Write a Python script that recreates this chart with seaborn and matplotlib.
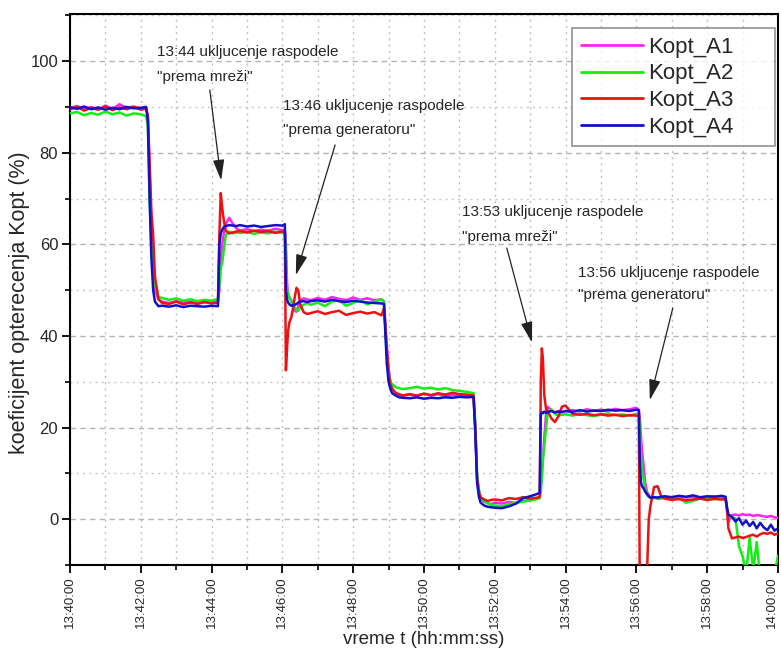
import matplotlib
matplotlib.use("Agg")
import matplotlib.pyplot as plt
from matplotlib.ticker import MultipleLocator
import seaborn as sns
import pandas as pd

# ---------------- data (time in minutes after 13:40:00) ----------------
T = [
    0.0, 0.2, 0.4, 0.6, 0.8, 1.0, 1.2, 1.4, 1.6, 1.8, 2.0, 2.15,
    2.2, 2.25, 2.3, 2.35, 2.4, 2.5,
    2.6, 2.8, 3.0, 3.2, 3.4, 3.6, 3.8, 4.0, 4.18,
    4.22, 4.26, 4.3, 4.35, 4.4, 4.5, 4.6, 4.7,
    4.8, 5.0, 5.2, 5.4, 5.6, 5.8, 6.0, 6.07,
    6.1, 6.13, 6.16, 6.2, 6.25, 6.3, 6.35, 6.4, 6.45, 6.5, 6.6, 6.7,
    6.8, 7.0, 7.2, 7.4, 7.6, 7.8, 8.0, 8.2, 8.4, 8.6, 8.8, 8.87,
    8.9, 8.95, 9.0, 9.05, 9.1, 9.2, 9.3, 9.4,
    9.6, 9.8, 10.0, 10.2, 10.4, 10.6, 10.8, 11.0, 11.2, 11.4,
    11.45, 11.5, 11.55, 11.6, 11.7, 11.8, 11.9,
    12.0, 12.2, 12.4, 12.6, 12.8, 13.0, 13.2, 13.27,
    13.3, 13.33, 13.36, 13.4, 13.45, 13.5, 13.6, 13.7, 13.8, 13.9,
    14.0, 14.2, 14.4, 14.6, 14.8, 15.0, 15.2, 15.4, 15.6, 15.8, 16.0, 16.07,
    16.1, 16.13, 16.16, 16.2, 16.25, 16.3, 16.35, 16.4, 16.5, 16.6, 16.7,
    16.8, 17.0, 17.2, 17.4, 17.6, 17.8, 18.0, 18.2, 18.4, 18.52,
    18.56, 18.6, 18.7, 18.8, 18.9, 19.0, 19.1, 19.2, 19.3, 19.4, 19.5, 19.6, 19.7, 19.8, 19.9, 20.0,
]

KOPT_A1 = [
    89.8, 90.2, 89.5, 90.0, 89.4, 90.3, 89.6, 90.6, 89.8, 90.1, 89.7, 89.9,
    88.0, 76.0, 64.0, 55.0, 50.0, 48.0,
    47.5, 47.2, 47.6, 47.3, 47.5, 47.1, 47.4, 47.2, 47.6,
    50.0, 57.0, 60.0, 62.5, 64.5, 65.8, 64.5, 63.5,
    63.0, 63.3, 62.9, 63.2, 63.0, 63.4, 63.1, 63.2,
    60.0, 52.0, 48.5, 48.5, 47.8, 46.5, 45.5, 45.3, 46.5, 47.8, 48.2, 48.0,
    47.8, 48.3, 47.9, 48.5, 48.1, 47.8, 48.4, 47.9, 48.2, 47.8, 48.0, 47.6,
    44.0, 38.0, 33.0, 30.0, 28.5, 27.5, 27.3, 27.0,
    27.2, 26.9, 27.4, 27.0, 27.3, 26.8, 27.1, 27.0, 26.9, 26.8,
    20.0, 9.0, 6.0, 4.5, 3.8, 3.5, 3.3,
    3.6, 3.4, 3.8, 3.5, 4.0, 4.2, 4.5, 4.6,
    7.0, 10.0, 13.0, 18.0, 23.0, 24.5, 23.8, 23.3, 23.6, 23.4,
    23.6, 23.8, 23.5, 24.0, 23.7, 23.9, 23.6, 24.1, 23.8, 24.0, 24.3, 23.8,
    22.0, 18.0, 15.0, 12.0, 8.0, 6.0, 5.2, 4.7, 4.6, 4.8, 4.7,
    4.8, 4.6, 5.0, 4.7, 4.9, 4.6, 4.8, 5.0, 4.7, 4.5,
    2.0, -0.6, 0.9, 1.0, 0.8, 1.1, 0.9, 1.0, 0.7, 0.9, 0.8, 0.6, 0.5, 0.7, 0.4, 0.3,
]

KOPT_A2 = [
    88.6, 88.9, 88.2, 88.7, 88.3, 89.0, 88.4, 88.8, 88.1, 88.6, 88.4, 88.0,
    86.0, 70.0, 59.0, 56.0, 51.0, 48.5,
    48.3, 47.9, 48.2, 47.7, 48.0, 47.6, 47.9, 47.7, 48.1,
    51.0, 55.0, 56.0, 59.0, 62.0, 62.8, 62.4, 62.6,
    62.5, 62.7, 62.3, 62.6, 62.4, 62.8, 62.5, 62.3,
    58.0, 50.0, 49.5, 48.3, 47.5, 46.8, 46.2, 45.8, 45.5, 46.3, 46.8, 47.2,
    46.8, 47.3, 46.5, 47.5, 47.8, 46.6, 47.2, 47.9, 46.9, 47.5, 48.0, 47.5,
    43.0, 36.0, 32.0, 30.0, 29.5, 28.8, 28.6, 28.4,
    28.6, 28.9, 28.5, 28.7, 28.3, 28.6, 28.2, 28.0, 27.8, 27.5,
    21.0, 10.0, 6.5, 4.8, 4.0, 3.5, 3.1,
    3.0, 2.8, 3.3, 3.6, 3.8, 4.1, 4.4, 4.6,
    6.0, 9.0, 13.0, 16.0, 20.0, 23.5, 24.0, 23.0, 22.6, 22.8,
    22.9, 22.6, 23.0, 22.7, 22.5, 22.8, 23.1, 22.7, 22.9, 22.6, 23.0, 22.8,
    20.0, 14.0, 11.0, 9.0, 6.5, 5.3, 4.9, 4.6, 4.8, 4.4, 4.5,
    4.6, 4.3, 4.7, 3.6, 4.0, 4.5, 4.3, 4.6, 4.4, 4.3,
    2.0, 0.8, 0.5, 0.2, -6.0, -8.0, -12.0, -4.0, -11.0, -5.0, -13.0, -14.0, -13.0, -14.0, -12.0, -8.0,
]

KOPT_A3 = [
    89.5, 90.0, 89.2, 89.8, 89.4, 90.1, 89.3, 89.9, 89.5, 90.0, 89.4, 89.6,
    88.0, 78.0, 67.0, 62.0, 53.0, 48.0,
    47.2, 47.0, 47.5, 46.9, 47.3, 47.0, 47.4, 47.1, 47.3,
    62.0, 71.2, 68.0, 65.0, 63.0, 62.4, 62.6, 62.8,
    62.9, 62.6, 63.0, 62.7, 62.9, 62.5, 62.8, 62.7,
    32.5, 37.0, 41.0, 43.0, 44.0, 46.0, 48.5, 50.5, 50.0, 47.0, 45.2, 44.8,
    45.0, 45.4, 44.8, 45.2, 45.5, 44.6, 45.0, 45.3, 44.9, 45.2, 44.5, 46.0,
    43.0, 37.0, 32.0, 29.5, 28.5, 27.6, 27.2, 27.0,
    27.3, 27.0, 27.4, 27.1, 27.5, 27.2, 27.6, 27.3, 27.2, 27.0,
    20.0, 9.0, 6.0, 4.8, 4.3, 4.0, 4.2,
    4.3, 4.1, 4.6, 4.4, 4.8, 4.5, 4.7, 4.9,
    30.0, 37.3, 35.0, 27.0, 24.0, 23.5, 22.0, 21.2, 22.5, 24.6,
    24.8, 23.0, 22.8, 23.0, 22.7, 22.9, 22.6, 22.8, 22.5, 22.7, 22.6, 22.5,
    -20.0, -20.0, -20.0, -20.0, -20.0, -12.0, 0.0, 3.0, 7.0, 7.2, 5.0,
    4.5, 4.2, 4.4, 4.1, 4.3, 4.5, 4.2, 4.4, 4.3, 4.4,
    2.5, -2.0, -4.2, -4.0, -3.8, -4.1, -3.9, -3.6, -3.4, -3.8, -3.3, -3.0, -3.2, -2.9, -3.4, -3.1,
]

KOPT_A4 = [
    89.9, 89.6, 90.1, 89.5, 89.9, 89.4, 89.8, 89.5, 90.0, 89.7, 89.8, 90.0,
    87.0, 70.0, 57.0, 50.0, 47.5, 46.5,
    46.6, 46.4, 46.7, 46.3, 46.6, 46.5, 46.4, 46.6, 46.5,
    60.0, 62.4, 63.2, 63.8, 64.0, 64.2, 64.1, 64.0,
    64.2, 63.9, 64.1, 63.8, 64.0, 64.2, 64.1, 64.4,
    50.0, 48.0, 47.3, 46.9, 46.6, 46.7, 46.8, 47.0, 47.3, 47.5, 47.6, 47.4,
    47.6, 47.8, 47.5, 47.9, 47.6, 47.4, 47.7, 47.5, 47.3, 47.2, 47.1, 47.0,
    42.0, 34.0, 30.0, 28.5, 27.5, 27.0, 26.6, 26.5,
    26.4, 26.6, 26.3, 26.5, 26.4, 26.6, 26.5, 26.7, 26.6, 26.7,
    19.0, 8.0, 5.0, 3.6, 3.0, 2.7, 2.6,
    2.5, 2.4, 2.8, 3.4, 4.6, 5.0, 5.5, 5.8,
    23.0, 23.3, 23.1, 23.5, 23.2, 23.4, 23.6, 23.3, 23.5, 23.4,
    23.6, 23.4, 23.8, 23.5, 23.7, 23.6, 23.9, 23.7, 23.8, 23.6, 23.9, 23.8,
    12.0, 8.0, 7.2, 6.8, 6.0, 5.5, 5.0, 4.7, 4.8, 4.7, 4.9,
    5.0, 4.8, 5.1, 4.9, 5.2, 4.8, 5.0, 4.9, 5.1, 4.9,
    2.5, 1.0, 0.5, -0.5, 0.2, -1.2, -0.3, -1.5, -0.6, -2.0, -0.8, -1.8, -2.4, -1.2, -2.5, -2.0,
]

SERIES_NAMES = ["Kopt_A1", "Kopt_A2", "Kopt_A3", "Kopt_A4"]
X_TICK_LABELS = ["13:40:00", "13:42:00", "13:44:00", "13:46:00", "13:48:00", "13:50:00",
                 "13:52:00", "13:54:00", "13:56:00", "13:58:00", "14:00:00"]

ANNOTATIONS = [
    ("13:44 ukljucenje raspodele", "\"prema mreži\""),
    ("13:46 ukljucenje raspodele", "\"prema generatoru\""),
    ("13:53 ukljucenje raspodele", "\"prema mreži\""),
    ("13:56 ukljucenje raspodele", "\"prema generatoru\""),
]
# text anchor (t, y1, y2) and arrow (start, tip) in data coordinates
ANN_TEXT_POS = [(2.45, 102.0, 96.5), (6.02, 90.2, 84.9), (11.07, 67.0, 61.6), (14.35, 53.7, 49.0)]
ANN_ARROWS = [((3.95, 93.7), (4.27, 74.0)), ((7.49, 81.7), (6.38, 53.3)),
              ((12.34, 59.2), (13.05, 38.6)), ((17.03, 46.1), (16.38, 26.0))]

# ---------------- build long-form table ----------------
frames = []
for name, vals in zip(SERIES_NAMES, [KOPT_A1, KOPT_A2, KOPT_A3, KOPT_A4]):
    frames.append(pd.DataFrame({"t": T, "Kopt": vals, "series": name}))
df = pd.concat(frames, ignore_index=True)

sns.set_theme(style="white")
plt.rcParams["font.family"] = ["Liberation Sans", "DejaVu Sans"]

fig = plt.figure(figsize=(7.81, 6.5), dpi=100)
ax = fig.add_axes([0.0896, 0.1308, 0.9065, 0.8477])

palette = {"Kopt_A1": "#ff22ff", "Kopt_A2": "#11ee11", "Kopt_A3": "#ee1111", "Kopt_A4": "#1111cc"}
sns.lineplot(data=df, x="t", y="Kopt", hue="series", palette=palette, hue_order=SERIES_NAMES,
             estimator=None, sort=False, linewidth=1.8, ax=ax, zorder=3)

ax.set_xlim(0, 20)
ax.set_ylim(-10, 110.3)

ax.set_xticks([2 * i for i in range(len(X_TICK_LABELS))])
ax.set_xticklabels(X_TICK_LABELS, rotation=90, fontsize=9.5)
# keep the last (edge) label inside the figure
ax.get_xticklabels()[-1].set_horizontalalignment("right")
ax.xaxis.set_minor_locator(MultipleLocator(1))
ax.set_yticks([0, 20, 40, 60, 80, 100])
ax.yaxis.set_minor_locator(MultipleLocator(10))
ax.tick_params(axis="y", labelsize=12)

ax.tick_params(which="major", direction="out", length=6, width=1.3, color="black",
               bottom=True, left=True, top=False, right=False, pad=2.5)
ax.tick_params(which="minor", direction="out", length=3.5, width=1.2, color="black",
               bottom=True, left=True, top=False, right=False)

for s in ax.spines.values():
    s.set_visible(True)
    s.set_color("black")
    s.set_linewidth(1.5)

# grid
ax.set_axisbelow(True)
ax.yaxis.grid(True, which="major", linestyle=(0, (4, 3)), color="#b5b5b5", linewidth=1.0)
ax.yaxis.grid(True, which="minor", linestyle=(0, (1.5, 3)), color="#c8c8c8", linewidth=1.0)
ax.xaxis.grid(True, which="both", linestyle=(0, (1.5, 3)), color="#c0c0c0", linewidth=1.0)

ax.set_xlabel("vreme t (hh:mm:ss)", fontsize=13.5)
ax.xaxis.label.set_va("bottom")
ax.xaxis.set_label_coords(0.5, -0.1515)
ax.set_ylabel("koeficijent opterecenja Kopt (%)", fontsize=15.5)
ax.yaxis.set_label_coords(-0.056, 0.476)

# annotations
for (l1, l2), (tx, y1, y2), (start, tip) in zip(ANNOTATIONS, ANN_TEXT_POS, ANN_ARROWS):
    ax.text(tx, y1, l1, fontsize=11, ha="left", va="center", zorder=5)
    ax.text(tx, y2, l2, fontsize=11, ha="left", va="center", zorder=5)
    ax.annotate("", xy=tip, xytext=start,
                arrowprops=dict(arrowstyle="-|>,head_length=0.9,head_width=0.25",
                                color="#222222", lw=0.9, shrinkA=0, shrinkB=0,
                                mutation_scale=14), zorder=5)

leg = ax.legend(loc="upper left", bbox_to_anchor=(0.709, 0.766, 0.2867, 0.2086), mode="expand",
                borderaxespad=0, fontsize=16, frameon=True, fancybox=False, handlelength=2.8,
                labelspacing=0.25, handletextpad=0.25, borderpad=0.4, title=None)
leg.get_frame().set_edgecolor("#777777")
leg.get_frame().set_linewidth(1.2)
for line in leg.get_lines():
    line.set_linewidth(2.0)

fig.savefig("out.png", dpi=100, facecolor="white")
